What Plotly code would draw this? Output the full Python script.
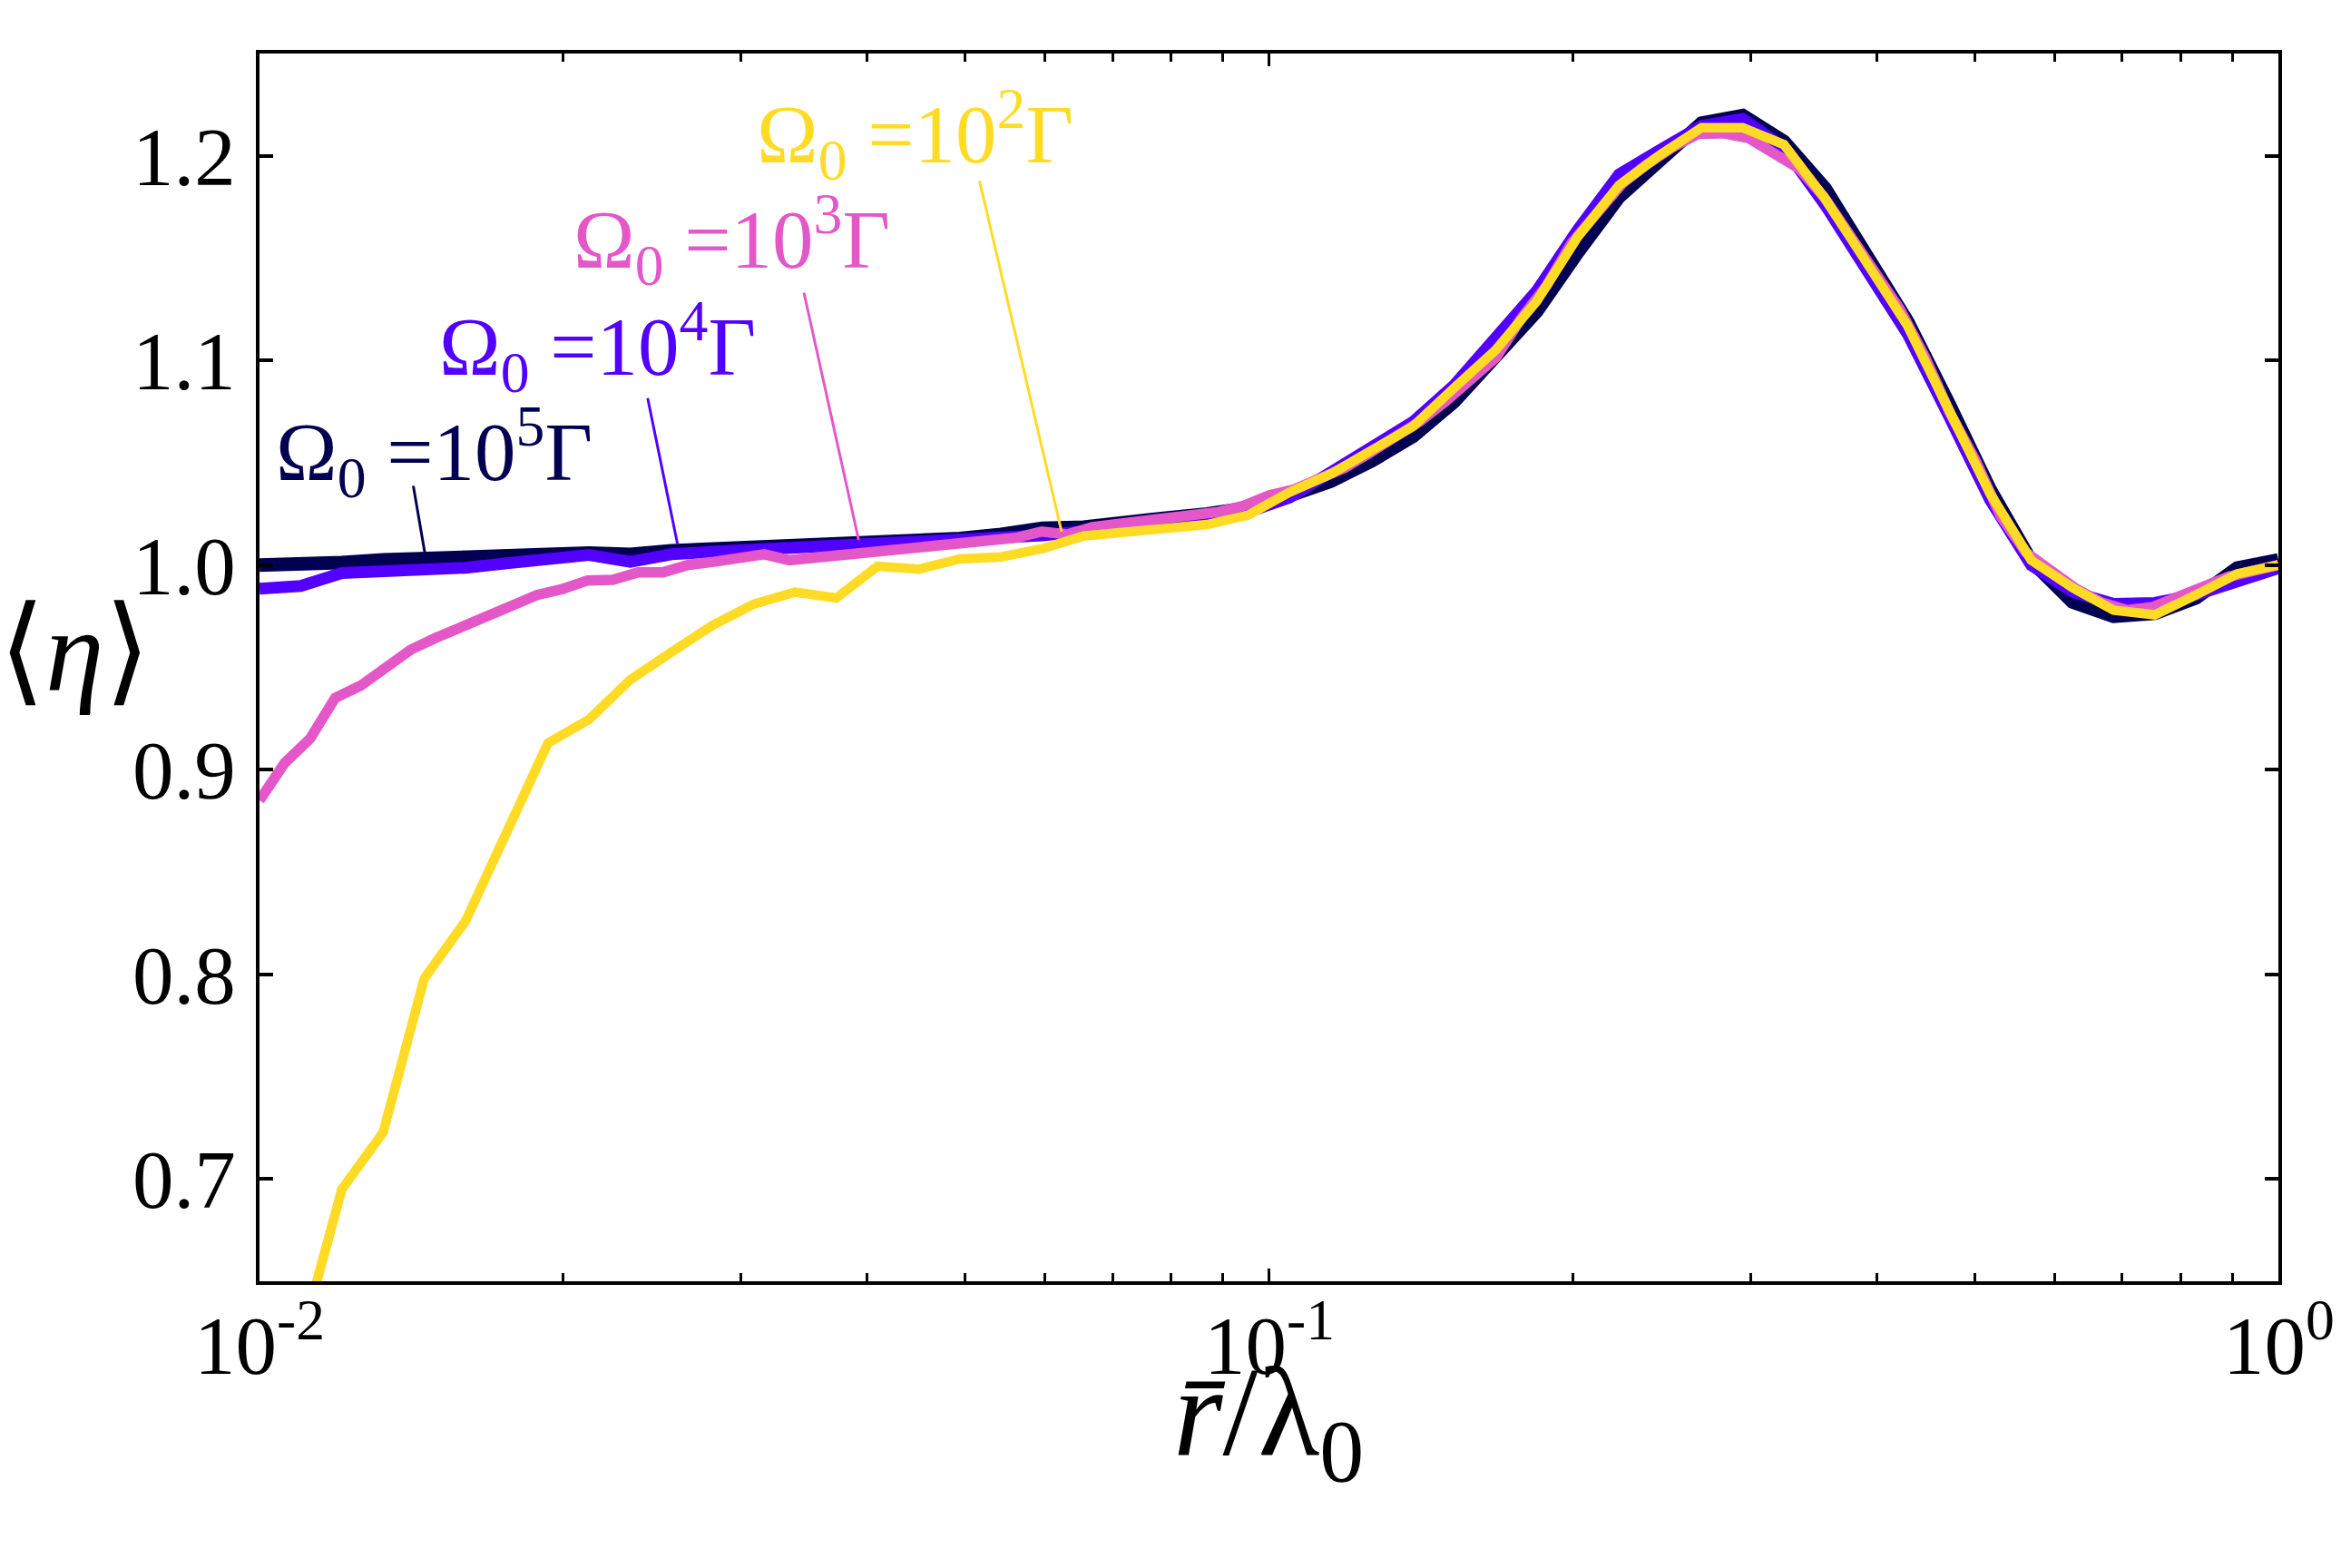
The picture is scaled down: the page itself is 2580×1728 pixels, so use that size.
import numpy as np
import plotly.graph_objects as go

# ---------------- data ----------------
x_grid = np.logspace(-2, 0, 50)        # sampling of the navy / blue / yellow curves
x_pink = np.logspace(-2, 0, 81)        # pink curve is sampled more densely

eta_1e5 = [1.000, 1.000, 1.0012, 1.0025, 1.0028, 1.0037, 1.0044, 1.0052, 1.0059, 1.0052, 1.007, 1.0078,
           1.0085, 1.009, 1.010, 1.0112, 1.012, 1.013, 1.015, 1.018, 1.0185, 1.020, 1.023,
           1.025, 1.028, 1.034, 1.041, 1.051, 1.063, 1.080, 1.101, 1.124, 1.153, 1.180, 1.198, 1.216,
           1.2197, 1.207, 1.184, 1.153, 1.119, 1.079, 1.037, 1.002, 0.982, 0.975, 0.9765, 0.984, 0.9985, 1.0025]

eta_1e4 = [0.9885, 0.9898, 0.9961, 0.9967, 0.997, 0.9987, 1.0009, 1.0031, 1.005, 1.0016, 1.0053, 1.0065,
           1.0075, 1.0085, 1.009, 1.010, 1.011, 1.012, 1.013, 1.0145, 1.0165, 1.0175, 1.020,
           1.023, 1.026, 1.033, 1.045, 1.057, 1.070, 1.088, 1.110, 1.134, 1.164, 1.191, 1.203, 1.2146,
           1.218, 1.204, 1.176, 1.145, 1.113, 1.073, 1.032, 1.000, 0.987, 0.981, 0.9815, 0.9855, 0.992, 0.9985]

eta_1e3 = [0.885, 0.9033, 0.9151, 0.9351, 0.941, 0.9499, 0.9587, 0.9645, 0.9698, 0.975, 0.9795, 0.9854,
           0.9883, 0.9925, 0.9928, 0.9965, 0.9965, 1.0001, 1.0016,
           1.0031, 1.0053, 1.0024, 1.0035, 1.0046, 1.0061, 1.0075, 1.0083, 1.0095, 1.0105, 1.012, 1.0134,
           1.0164, 1.015, 1.0186, 1.0201, 1.0216, 1.0231, 1.0248,
           1.026, 1.029, 1.034, 1.037, 1.0416, 1.0475, 1.0549, 1.0622, 1.0704, 1.08, 1.0904, 1.1015,
           1.1207, 1.1366, 1.1575, 1.1726, 1.1865, 1.196, 1.2042, 1.2107, 1.211, 1.2087, 1.202, 1.1939,
           1.1798, 1.162, 1.1436, 1.1251, 1.1015, 1.074, 1.0512,
           1.0238, 1.0061, 0.9972, 0.9883, 0.9817, 0.978, 0.9795, 0.984, 0.989, 0.9942, 0.9972, 1.0001]

# yellow curve: first sample (x = 0.01) lies below the visible range
eta_1e2 = [0.621, 0.695, 0.7227, 0.798, 0.826, 0.870, 0.913, 0.9246, 0.944, 0.9575, 0.9706,
           0.981, 0.9868, 0.9839, 0.9994, 0.998, 1.003, 1.004, 1.008, 1.0142, 1.0157, 1.0179,
           1.0198, 1.0245, 1.0356, 1.0445, 1.0556, 1.0678, 1.0867, 1.105, 1.129, 1.1606, 1.1857,
           1.2005, 1.2138, 1.2138, 1.2055, 1.179, 1.148, 1.117, 1.076, 1.035, 1.0024, 0.989, 0.978,
           0.9757, 0.9854, 0.9957, 1.0001]

labels = ["Ω<sub>0</sub> =10<sup>5</sup>Γ", "Ω<sub>0</sub> =10<sup>4</sup>Γ",
          "Ω<sub>0</sub> =10<sup>3</sup>Γ", "Ω<sub>0</sub> =10<sup>2</sup>Γ"]
x_tickvals = [0.01, 0.1, 1]
x_ticktext = ["10<sup>-2</sup>", "10<sup>-1</sup>", "10<sup>0</sup>"]
y_tickvals = [0.7, 0.8, 0.9, 1.0, 1.1, 1.2]
x_minor = [k * 10.0 ** e for e in (-2, -1) for k in range(2, 10)]

# ---------------- style ----------------
W, H = 2580, 1728
L, R, T, B = 286, 2511, 59, 1412
colors = ["#020050", "#5200FF", "#E457C8", "#FFDB26"]
widths = [15, 13, 11.5, 10.5]
FONT = "Liberation Serif"

fig = go.Figure()
series = [(x_grid, eta_1e5), (x_grid, eta_1e4), (x_pink, eta_1e3), (x_grid[1:], eta_1e2)]
for (xs, ys), c, w, name in zip(series, colors, widths, labels):
    fig.add_trace(go.Scatter(x=list(xs), y=ys, mode="lines", name=name,
                             line=dict(color=c, width=w), showlegend=False))

def px2paper(px, py):
    return (px - L) / (R - L), (B - py) / (B - T)

# labels (text) and leader lines
text_pos = [(302, 498), (482, 382), (630, 264), (832, 148)]
leaders = [((455.5, 535.4), (468.1, 608.8)),
           ((713.8, 438.7), (746.6, 599.3)),
           ((886.0, 322.5), (946.3, 595.0)),
           ((1079.5, 199.3), (1170.0, 586.0))]
for lab, c, (tx, ty), ((x0, y0), (x1, y1)) in zip(labels, colors, text_pos, leaders):
    ax_, ay_ = px2paper(tx, ty)
    fig.add_annotation(x=ax_, y=ay_, xref="paper", yref="paper", text=lab, showarrow=False,
                       xanchor="left", yanchor="middle", font=dict(family=FONT, size=91, color=c))
    p0 = px2paper(x0, y0)
    p1 = px2paper(x1, y1)
    fig.add_shape(type="line", xref="paper", yref="paper", x0=p0[0], y0=p0[1], x1=p1[0], y1=p1[1],
                  line=dict(color=c, width=3))

# x tick labels placed under their ticks
for v, t in zip(x_tickvals, x_ticktext):
    fig.add_annotation(x=np.log10(v), y=px2paper(0, 1476)[1], xref="x", yref="paper", text=t,
                       showarrow=False, xanchor="center", yanchor="middle",
                       font=dict(family=FONT, size=91, color="black"))

# axis titles
xl = px2paper(1398, 1565)
fig.add_annotation(x=xl[0], y=xl[1], xref="paper", yref="paper",
                   text="<i>r̄</i>/λ<sub>0</sub>", showarrow=False,
                   xanchor="center", yanchor="middle", font=dict(family=FONT, size=140, color="black"))
yl = px2paper(82, 716)
fig.add_annotation(x=yl[0], y=yl[1], xref="paper", yref="paper",
                   text="⟨<i>η</i>⟩", showarrow=False,
                   xanchor="center", yanchor="middle", font=dict(family=FONT, size=130, color="black"))

fig.update_layout(
    width=W, height=H,
    margin=dict(l=L, r=W - R, t=T, b=H - B, pad=0),
    paper_bgcolor="white", plot_bgcolor="white",
    font=dict(family=FONT, size=91, color="black"),
)
fig.update_xaxes(type="log", range=[-2, 0], tickvals=x_tickvals, showticklabels=False,
                 ticks="inside", ticklen=14, tickwidth=3, tickcolor="black",
                 showline=True, linewidth=4, linecolor="black", mirror="allticks",
                 showgrid=False, zeroline=False,
                 minor=dict(tickvals=x_minor, ticks="inside", ticklen=9, tickwidth=3,
                            tickcolor="black", showgrid=False))
fig.update_yaxes(range=[0.65, 1.25], tickvals=y_tickvals, tickformat=".1f",
                 ticks="inside", ticklen=15, tickwidth=4, tickcolor="black",
                 showline=True, linewidth=4, linecolor="black", mirror="allticks",
                 showgrid=False, zeroline=False, ticklabelstandoff=4)

fig.write_html("out.html")
